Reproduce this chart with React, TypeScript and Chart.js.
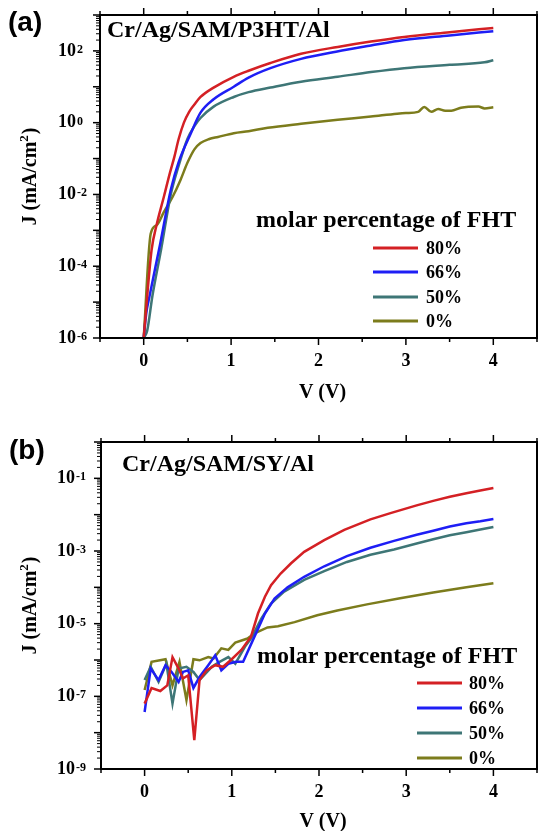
import React, { useEffect, useRef } from 'react';
import { Chart, registerables } from 'chart.js';

Chart.register(...registerables);

// ---------- shared ----------
const SERIES_LABELS = ['80%', '66%', '50%', '0%'];
const SERIES_COLORS = ['#d42024', '#1e1ef5', '#3e7676', '#7c7c1c'];
const X_MIN = -0.5;
const X_MAX = 4.5;
const X_TICK_VALUES = [0, 1, 2, 3, 4];
const X_TICK_LABELS = ['0', '1', '2', '3', '4'];

// ---------- panel (a): Cr/Ag/SAM/P3HT/Al ----------
const aV80 = [0, 0.09, 0.15, 0.23, 0.3, 0.35, 0.4, 0.46, 0.52, 0.58, 0.65, 0.8, 1.03, 1.2, 1.45, 1.8, 2.22, 2.6, 2.98, 3.5, 4.0];
const aJ80 = [1e-6, 2.8e-4, 1.5e-3, 8.5e-3, 4e-2, 0.11, 0.35, 1.0, 2.0, 3.2, 5.2, 9.5, 19, 28, 46, 83, 129, 182, 245, 331, 437];
const aV66 = [0, 0.03, 0.065, 0.19, 0.31, 0.4, 0.54, 0.65, 0.8, 1.03, 1.2, 1.45, 1.8, 2.2, 2.6, 2.98, 3.5, 4.0];
const aJ66 = [1e-6, 5e-6, 1.4e-5, 4.4e-4, 1.35e-2, 8e-2, 0.51, 1.9, 4.5, 10, 18, 33, 60, 95, 141, 200, 269, 355];
const aV50 = [0, 0.04, 0.1, 0.2, 0.31, 0.4, 0.5, 0.58, 0.65, 0.8, 1.03, 1.2, 1.45, 1.8, 2.22, 2.6, 2.98, 3.5, 3.9, 4.0];
const aJ50 = [1e-6, 1.6e-6, 1.5e-5, 3e-4, 1e-2, 6.3e-2, 0.35, 0.8, 1.35, 2.8, 5.2, 7.1, 9.5, 13.8, 19, 25.7, 33, 41, 48, 55];
const aV0 = [0, 0.08, 0.15, 0.23, 0.33, 0.42, 0.5, 0.58, 0.65, 0.75, 0.85, 1.03, 1.2, 1.42, 1.8, 2.22, 2.6, 2.9, 3.0, 3.14, 3.21, 3.29, 3.37, 3.45, 3.52, 3.63, 3.83, 3.9, 4.0];
const aJ0 = [1e-6, 8e-4, 1.4e-3, 3.2e-3, 8.5e-3, 2.5e-2, 7.6e-2, 0.18, 0.27, 0.35, 0.4, 0.51, 0.58, 0.72, 0.93, 1.2, 1.48, 1.78, 1.86, 2.0, 2.75, 2.0, 2.4, 2.15, 2.15, 2.6, 2.8, 2.5, 2.7];
const aYMin = 1e-6;
const aYMax = 1e3;
const aYTickValues = [1e-6, 1e-4, 1e-2, 1, 1e2];
const aYTickExps = ['-6', '-4', '-2', '0', '2'];

// ---------- panel (b): Cr/Ag/SAM/SY/Al ----------
const bV80 = [0, 0.08, 0.18, 0.26, 0.32, 0.39, 0.44, 0.5, 0.57, 0.63, 0.71, 0.81, 0.9, 0.99, 1.11, 1.22, 1.3, 1.38, 1.45, 1.56, 1.68, 1.83, 2.06, 2.29, 2.59, 2.82, 3.12, 3.31, 3.5, 3.69, 3.85, 4.0];
const bJ80 = [6.3e-8, 1.7e-7, 1.4e-7, 2e-7, 1.2e-6, 5.8e-7, 3.1e-7, 3.8e-7, 6.2e-9, 2.8e-7, 5.2e-7, 7.2e-7, 6.5e-7, 1.0e-6, 1.9e-6, 4.4e-6, 1.9e-5, 5.5e-5, 1.15e-4, 2.4e-4, 4.6e-4, 9.5e-4, 2.0e-3, 3.8e-3, 7.4e-3, 1.1e-2, 1.8e-2, 2.4e-2, 3.1e-2, 3.9e-2, 4.6e-2, 5.4e-2];
const bV66 = [0, 0.07, 0.16, 0.24, 0.31, 0.39, 0.44, 0.5, 0.56, 0.63, 0.73, 0.81, 0.88, 0.96, 1.05, 1.13, 1.26, 1.38, 1.49, 1.64, 1.83, 2.06, 2.32, 2.59, 2.86, 3.12, 3.31, 3.5, 3.69, 3.85, 4.0];
const bJ66 = [3.7e-8, 5.8e-7, 2.8e-7, 7.2e-7, 4.7e-7, 2.5e-7, 4.7e-7, 5.2e-7, 1.7e-7, 3.4e-7, 7.2e-7, 1.35e-6, 5.2e-7, 7.9e-7, 8.9e-7, 8.9e-7, 4.4e-6, 1.9e-5, 4.9e-5, 1.0e-4, 1.95e-4, 3.8e-4, 7.2e-4, 1.23e-3, 1.9e-3, 2.8e-3, 3.6e-3, 4.7e-3, 5.8e-3, 6.6e-3, 7.6e-3];
const bV50 = [0, 0.07, 0.16, 0.25, 0.32, 0.39, 0.48, 0.56, 0.63, 0.77, 0.86, 0.96, 1.04, 1.15, 1.22, 1.34, 1.45, 1.6, 1.83, 2.06, 2.32, 2.59, 2.86, 3.12, 3.31, 3.5, 3.69, 3.85, 4.0];
const bJ50 = [2.8e-7, 6.5e-7, 2.5e-7, 7.9e-7, 6.3e-8, 5.8e-7, 6.5e-7, 4.7e-7, 2.8e-7, 6.5e-7, 8.9e-7, 1.2e-6, 7.9e-7, 2.3e-6, 3.9e-6, 1.4e-5, 3.6e-5, 7.6e-5, 1.6e-4, 2.8e-4, 5.0e-4, 7.9e-4, 1.1e-3, 1.6e-3, 2.1e-3, 2.7e-3, 3.3e-3, 3.9e-3, 4.6e-3];
const bV0 = [0, 0.08, 0.24, 0.32, 0.4, 0.48, 0.56, 0.63, 0.73, 0.79, 0.88, 0.96, 1.04, 1.18, 1.26, 1.41, 1.53, 1.72, 1.98, 2.21, 2.55, 2.93, 3.31, 3.69, 4.0];
const bJ0 = [1.5e-7, 8.9e-7, 1.05e-6, 2e-7, 8.9e-7, 7.9e-8, 1.05e-6, 9.8e-7, 1.2e-6, 1.1e-6, 2.1e-6, 1.9e-6, 3.0e-6, 3.9e-6, 5.4e-6, 7.9e-6, 8.5e-6, 1.1e-5, 1.7e-5, 2.3e-5, 3.4e-5, 5.0e-5, 7.2e-5, 1.0e-4, 1.3e-4];
const bYMin = 1e-9;
const bYMax = 1;
const bYTickValues = [1e-9, 1e-7, 1e-5, 1e-3, 1e-1];
const bYTickExps = ['-9', '-7', '-5', '-3', '-1'];

const SERIF = '"Liberation Serif", "Times New Roman", serif';
const SANS = '"Liberation Sans", Arial, sans-serif';

type Panel = {
  tag: string;
  title: string;
  series: { v: number[]; j: number[] }[];
  yMin: number;
  yMax: number;
  yTickValues: number[];
  yTickExps: string[];
  smooth: boolean;
  canvasTop: number;
  canvasH: number;
  pad: { left: number; top: number; right: number; bottom: number };
  tagPos: [number, number];
  titlePos: [number, number];
  yLabelX: number;
  xTitleDy: number;
  legend: { titleX: number; titleY: number; x1: number; x2: number; labelX: number; rows: number[] };
};

const panels: Panel[] = [
  {
    tag: '(a)',
    title: 'Cr/Ag/SAM/P3HT/Al',
    series: [
      { v: aV80, j: aJ80 },
      { v: aV66, j: aJ66 },
      { v: aV50, j: aJ50 },
      { v: aV0, j: aJ0 },
    ],
    yMin: aYMin,
    yMax: aYMax,
    yTickValues: aYTickValues,
    yTickExps: aYTickExps,
    smooth: true,
    canvasTop: 0,
    canvasH: 415,
    pad: { left: 100, top: 15, right: 1, bottom: 77 },
    tagPos: [8, 23],
    titlePos: [107, 37],
    yLabelX: 58,
    xTitleDy: 55,
    legend: { titleX: 256, titleY: 227, x1: 373, x2: 418, labelX: 426, rows: [248, 272, 297, 321] },
  },
  {
    tag: '(b)',
    title: 'Cr/Ag/SAM/SY/Al',
    series: [
      { v: bV80, j: bJ80 },
      { v: bV66, j: bJ66 },
      { v: bV50, j: bJ50 },
      { v: bV0, j: bJ0 },
    ],
    yMin: bYMin,
    yMax: bYMax,
    yTickValues: bYTickValues,
    yTickExps: bYTickExps,
    smooth: false,
    canvasTop: 415,
    canvasH: 416,
    pad: { left: 101, top: 27, right: 1, bottom: 62 },
    tagPos: [9, 36],
    titlePos: [122, 56],
    yLabelX: 57,
    xTitleDy: 53,
    legend: { titleX: 257, titleY: 248, x1: 417, x2: 462, labelX: 469, rows: [268, 293, 318, 343] },
  },
];

function decor(p: Panel) {
  return {
    id: 'decor',
    afterDatasetsDraw(chart: any) {
      const ctx = chart.ctx as CanvasRenderingContext2D;
      const { left, right, top, bottom } = chart.chartArea;
      const xs = chart.scales.x;
      const ys = chart.scales.y;
      const seg = (x1: number, y1: number, x2: number, y2: number) => {
        ctx.beginPath();
        ctx.moveTo(x1, y1);
        ctx.lineTo(x2, y2);
        ctx.stroke();
      };
      ctx.save();
      ctx.strokeStyle = '#000';
      ctx.fillStyle = '#000';

      // x ticks (major at integers, minor at halves), bottom and top, outward
      ctx.lineWidth = 1.5;
      for (let v = X_MIN; v <= X_MAX + 1e-9; v += 0.5) {
        const px = xs.getPixelForValue(v);
        const major = Math.abs(v - Math.round(v)) < 1e-6;
        const len = major ? 7 : 4;
        seg(px, bottom, px, bottom + len);
        seg(px, top, px, top - len);
      }
      // y ticks (decades major, 2..9 minor), left and right, outward
      const e0 = Math.round(Math.log10(p.yMin));
      const e1 = Math.round(Math.log10(p.yMax));
      for (let e = e0; e <= e1; e++) {
        const base = Math.pow(10, e);
        const py = ys.getPixelForValue(base);
        ctx.lineWidth = 1.5;
        seg(left, py, left - 7, py);
        seg(right, py, right + 7, py);
        if (e < e1) {
          ctx.lineWidth = 1;
          for (let k = 2; k <= 9; k++) {
            const pm = ys.getPixelForValue(base * k);
            seg(left, pm, left - 4, pm);
            seg(right, pm, right + 4, pm);
          }
        }
      }
      // frame
      ctx.lineWidth = 2;
      ctx.strokeRect(left, top, right - left, bottom - top);

      // y tick labels 10^n
      p.yTickValues.forEach((val, i) => {
        const py = ys.getPixelForValue(val);
        ctx.font = `bold 18px ${SERIF}`;
        ctx.textAlign = 'left';
        ctx.textBaseline = 'middle';
        ctx.fillText('10', p.yLabelX, py);
        const w = ctx.measureText('10').width;
        ctx.font = `bold 12px ${SERIF}`;
        ctx.textBaseline = 'alphabetic';
        ctx.fillText(p.yTickExps[i], p.yLabelX + w + 1, py + 2);
      });

      // x tick labels
      ctx.font = `bold 18px ${SERIF}`;
      ctx.textAlign = 'center';
      ctx.textBaseline = 'middle';
      X_TICK_VALUES.forEach((v, i) => {
        ctx.fillText(X_TICK_LABELS[i], xs.getPixelForValue(v), bottom + 23);
      });

      // x title
      ctx.font = `bold 20px ${SERIF}`;
      ctx.fillText('V (V)', (left + right) / 2 + 4, bottom + p.xTitleDy);

      // y title (rotated) J (mA/cm^2)
      ctx.save();
      ctx.translate(31, (top + bottom) / 2);
      ctx.rotate(-Math.PI / 2);
      ctx.textBaseline = 'middle';
      ctx.textAlign = 'left';
      const big = `bold 20px ${SERIF}`;
      const small = `bold 13px ${SERIF}`;
      ctx.font = big;
      const wA = ctx.measureText('J (mA/cm').width;
      const wC = ctx.measureText(')').width;
      ctx.font = small;
      const wB = ctx.measureText('2').width;
      const total = wA + wB + wC + 1;
      let cx = -total / 2;
      ctx.font = big;
      ctx.fillText('J (mA/cm', cx, 0);
      cx += wA;
      ctx.font = small;
      ctx.fillText('2', cx, -6);
      cx += wB + 1;
      ctx.font = big;
      ctx.fillText(')', cx, 0);
      ctx.restore();

      // panel tag
      ctx.font = `bold 28px ${SANS}`;
      ctx.textAlign = 'left';
      ctx.textBaseline = 'middle';
      ctx.fillText(p.tag, p.tagPos[0], p.tagPos[1]);

      // inner title
      ctx.font = `bold 24px ${SERIF}`;
      ctx.textBaseline = 'alphabetic';
      ctx.fillText(p.title, p.titlePos[0], p.titlePos[1]);

      // legend
      const L = p.legend;
      ctx.font = `bold 24px ${SERIF}`;
      ctx.fillText('molar percentage of FHT', L.titleX, L.titleY);
      ctx.font = `bold 18px ${SERIF}`;
      ctx.textBaseline = 'middle';
      L.rows.forEach((ry, i) => {
        ctx.strokeStyle = SERIES_COLORS[i];
        ctx.lineWidth = 3;
        seg(L.x1, ry, L.x2, ry);
        ctx.fillText(SERIES_LABELS[i], L.labelX, ry + 1);
      });
      ctx.restore();
    },
  };
}

function ChartPanel({ p }: { p: Panel }) {
  const ref = useRef<HTMLCanvasElement>(null);
  useEffect(() => {
    const canvas = ref.current!;
    const chart = new Chart(canvas, {
      type: 'line',
      data: {
        datasets: p.series.map((s, i) => ({
          label: SERIES_LABELS[i],
          data: s.v.map((x, k) => ({ x, y: s.j[k] })),
          borderColor: SERIES_COLORS[i],
          backgroundColor: SERIES_COLORS[i],
          borderWidth: 2.5,
          pointRadius: 0,
          fill: false,
          tension: 0,
          cubicInterpolationMode: p.smooth ? 'monotone' : 'default',
        })),
      },
      options: {
        responsive: false,
        animation: false,
        events: [],
        layout: { padding: p.pad },
        plugins: { legend: { display: false }, tooltip: { enabled: false } },
        scales: {
          x: { type: 'linear', min: X_MIN, max: X_MAX, display: false },
          y: { type: 'logarithmic', min: p.yMin, max: p.yMax, display: false },
        },
      } as any,
      plugins: [decor(p)],
    } as any);
    return () => chart.destroy();
  }, [p]);
  return (
    <canvas
      ref={ref}
      width={538}
      height={p.canvasH}
      style={{ position: 'absolute', left: 0, top: p.canvasTop, width: 538, height: p.canvasH }}
    />
  );
}

export default function App() {
  return (
    <div style={{ position: 'absolute', left: 0, top: 0, width: 538, height: 831, background: '#fff' }}>
      {panels.map((p) => (
        <ChartPanel key={p.tag} p={p} />
      ))}
    </div>
  );
}
